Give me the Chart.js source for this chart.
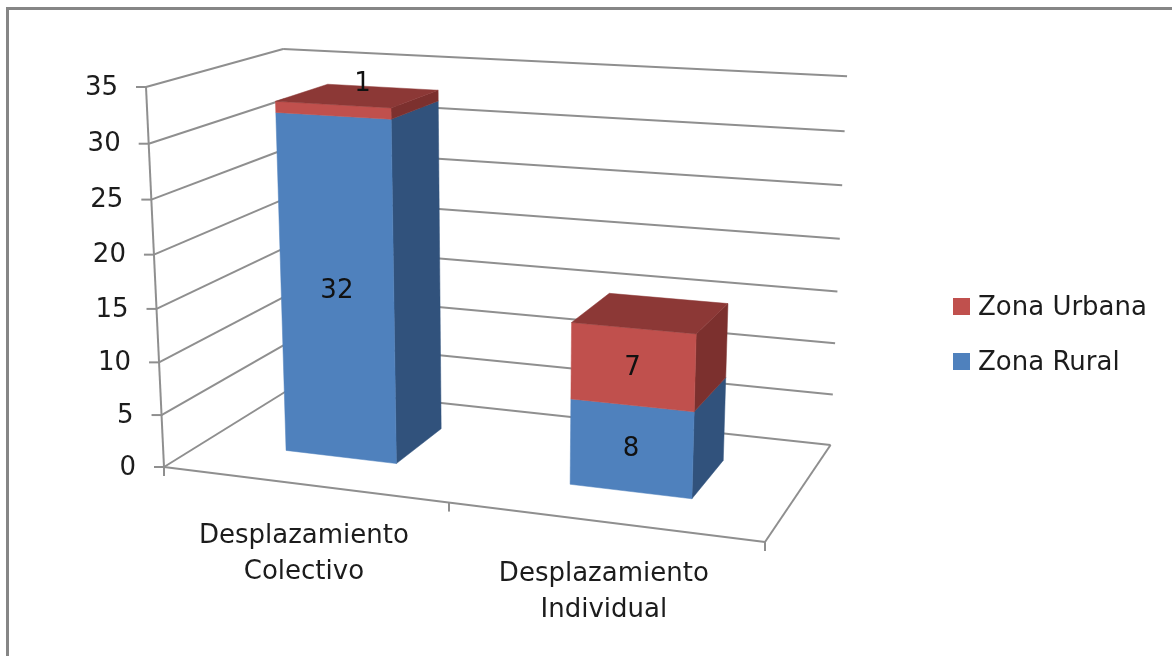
<!DOCTYPE html>
<html>
<head>
<meta charset="utf-8">
<title>Desplazamiento</title>
<script src="https://cdn.jsdelivr.net/npm/chart.js@4/dist/chart.umd.min.js"></script>
<style>
  html, body { margin: 0; padding: 0; background: #fff; overflow: hidden; }
  #frame { position: absolute; left: 6px; top: 7px; right: -10px; bottom: -10px; border-left: 3px solid #868686; border-top: 3px solid #868686; }
  #chart { position: absolute; left: 0; top: 0; filter: blur(0.7px); }
</style>
</head>
<body>
<div id="frame"></div>
<canvas id="chart" width="1172" height="656"></canvas>
<script>
// chart data
const categories = [['Desplazamiento', 'Colectivo'], ['Desplazamiento', 'Individual']];
const seriesNames = ['Zona Rural', 'Zona Urbana'];
const zonaRural = [32, 8];
const zonaUrbana = [1, 7];
const yMax = 35;
const yStep = 5;

// corners of the 3D box on screen, used to build the projection
const cA = [164, 467], cB = [765, 542], cG = [293, 387], cD = [146, 87];
// perspective along each axis
const ku = -0.098, kv = -0.05, kw = 0.13;
const depthFront = 0.3, depthBack = 0.71;

function project(u, v, w) {
  const den = 1 + ku*u + kv*v + kw*w;
  const f = i => (cA[i] + (cB[i]*(1+ku)-cA[i])*u + (cD[i]*(1+kv)-cA[i])*v + (cG[i]*(1+kw)-cA[i])*w) / den;
  return [f(0), f(1)];
}

function line(ctx, a, b) {
  ctx.beginPath();
  ctx.moveTo(a[0], a[1]);
  ctx.lineTo(b[0], b[1]);
  ctx.stroke();
}

function face(ctx, pts, color) {
  ctx.fillStyle = color;
  ctx.strokeStyle = color;
  ctx.lineWidth = 0.5;
  ctx.beginPath();
  pts.forEach((p, i) => i ? ctx.lineTo(p[0], p[1]) : ctx.moveTo(p[0], p[1]));
  ctx.closePath();
  ctx.fill();
  ctx.stroke();
}

const FONT = '26px "DejaVu Sans"';
const TEXT = '#1c1c1c';
const shades = [
  { front: '#4f81bd', side: '#31527c', top: '#3e6797' },
  { front: '#c0504d', side: '#7c302e', top: '#8c3836' }
];

const box3d = {
  id: 'box3d',
  beforeDatasetsDraw(chart) {
    const ctx = chart.ctx, area = chart.chartArea;
    const yScale = chart.scales.y, xScale = chart.scales.x;
    const toV = px => (area.bottom - px) / area.height;
    const toU = px => (px - area.left) / area.width;
    ctx.save();

    // walls
    ctx.strokeStyle = '#8f8f8f';
    ctx.lineWidth = 2;
    yScale.ticks.forEach(t => {
      const v = toV(yScale.getPixelForValue(t.value));
      line(ctx, project(0, v, 0), project(0, v, 1));
      line(ctx, project(0, v, 1), project(1, v, 1));
    });
    // floor and axes
    line(ctx, project(0, 0, 0), project(1, 0, 0));
    line(ctx, project(1, 0, 0), project(1, 0, 1));
    line(ctx, project(0, 0, 0), project(0, 1, 0));
    yScale.ticks.forEach(t => {
      const p = project(0, toV(yScale.getPixelForValue(t.value)), 0);
      line(ctx, p, [p[0]-10, p[1]]);
    });
    [0, 0.5, 1].forEach(u => {
      const p = project(u, 0, 0);
      line(ctx, p, [p[0], p[1]+9]);
    });

    // axis labels
    ctx.font = FONT;
    ctx.fillStyle = TEXT;
    ctx.textAlign = 'right';
    ctx.textBaseline = 'middle';
    yScale.ticks.forEach(t => {
      const p = project(0, toV(yScale.getPixelForValue(t.value)), 0);
      ctx.fillText(String(t.value), p[0]-28, p[1]+1);
    });
    ctx.textAlign = 'center';
    chart.data.labels.forEach((lab, i) => {
      const p = project(toU(xScale.getPixelForValue(i)), 0, 0);
      lab.forEach((txt, j) => ctx.fillText(txt, p[0]+1, p[1]+52+j*36));
    });

    // bars, stacked from the bottom up
    const last = chart.data.datasets.length - 1;
    chart.data.datasets.forEach((ds, di) => {
      chart.getDatasetMeta(di).data.forEach(el => {
        const u0 = toU(el.x - el.width/2), u1 = toU(el.x + el.width/2);
        const v0 = toV(el.base), v1 = toV(el.y);
        const s = shades[di];
        face(ctx, [project(u1,v0,depthFront), project(u1,v0,depthBack), project(u1,v1,depthBack), project(u1,v1,depthFront)], s.side);
        face(ctx, [project(u0,v0,depthFront), project(u1,v0,depthFront), project(u1,v1,depthFront), project(u0,v1,depthFront)], s.front);
        if (di === last) {
          face(ctx, [project(u0,v1,depthFront), project(u1,v1,depthFront), project(u1,v1,depthBack), project(u0,v1,depthBack)], s.top);
        }
      });
    });

    // value labels
    ctx.font = FONT;
    ctx.fillStyle = '#111';
    ctx.textAlign = 'center';
    ctx.textBaseline = 'middle';
    chart.data.datasets.forEach((ds, di) => {
      chart.getDatasetMeta(di).data.forEach((el, i) => {
        const uc = toU(el.x), v0 = toV(el.base), v1 = toV(el.y);
        let p;
        if (ds.data[i] < 2) {
          // too thin for its label, sits on top of the bar
          p = project(uc, v1, 0.5);
          p = [p[0]+5, p[1]-13];
        } else {
          p = project(uc, (v0+v1)/2, depthFront);
        }
        ctx.fillText(String(ds.data[i]), p[0], p[1]+1);
      });
    });

    // legend, top series first
    ctx.textAlign = 'left';
    chart.data.datasets.slice().reverse().forEach((ds, i) => {
      const y = 307 + i*55;
      ctx.fillStyle = ds.backgroundColor;
      ctx.fillRect(953, y-9, 17, 17);
      ctx.fillStyle = TEXT;
      ctx.fillText(ds.label, 978, y+1);
    });

    ctx.restore();
    return false;
  }
};

new Chart(document.getElementById('chart'), {
  type: 'bar',
  data: {
    labels: categories,
    datasets: [
      { label: seriesNames[0], data: zonaRural, backgroundColor: shades[0].front },
      { label: seriesNames[1], data: zonaUrbana, backgroundColor: shades[1].front }
    ]
  },
  options: {
    responsive: false,
    animation: false,
    events: [],
    barPercentage: 0.4,
    categoryPercentage: 1,
    plugins: { legend: { display: false }, tooltip: { enabled: false } },
    scales: {
      x: { display: false, stacked: true },
      y: { display: false, stacked: true, min: 0, max: yMax, ticks: { stepSize: yStep } }
    }
  },
  plugins: [box3d]
});
</script>
</body>
</html>
